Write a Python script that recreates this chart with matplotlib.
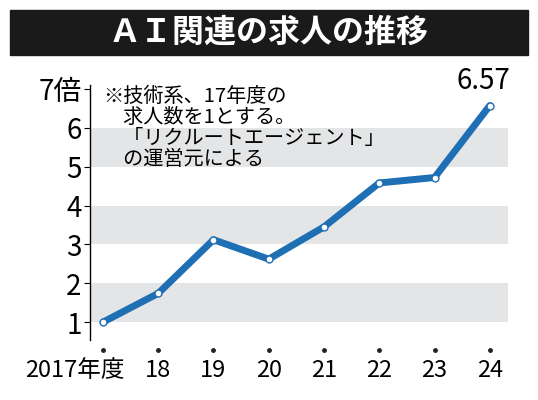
import matplotlib.pyplot as plt
import matplotlib.transforms as mtransforms
from matplotlib.patches import Rectangle

plt.rcParams['font.family'] = ['Noto Sans CJK JP', 'DejaVu Sans']

years = ['2017年度', '18', '19', '20', '21', '22', '23', '24']
values = [1.0, 1.74, 3.12, 2.62, 3.45, 4.58, 4.72, 6.57]
yticks = [1, 2, 3, 4, 5, 6, 7]
ylabels = ['1', '2', '3', '4', '5', '6', '7倍']

fig = plt.figure(figsize=(5.38, 4.0), dpi=100)
fig.patches.append(Rectangle((10 / 538, 1 - 55 / 400), 518 / 538, 45 / 400,
                             transform=fig.transFigure, color='#1a1a1a'))
fig.text(0.5, 1 - 33 / 400, 'ＡＩ関連の求人の推移', color='white', fontsize=23,
         ha='center', va='center', fontweight='bold')

ax = fig.add_axes([90 / 538, 60 / 400, 418 / 538, 255 / 400])
x = list(range(len(years)))
ax.set_xlim(-0.235, 7.33)
ax.set_ylim(0.54, 7.1)
for lo in [1, 3, 5]:
    ax.axhspan(lo, lo + 1, color='#e4e5e6', lw=0, zorder=0)
ax.plot(x, values, color='#1f6fb5', lw=5, solid_capstyle='round', zorder=3)
ax.plot(x, values, 'o', ms=5, mfc='white', mec='#1f6fb5', mew=1, zorder=4)
ax.text(x[-1] - 0.12, values[-1] + 0.25, f'{values[-1]:.2f}', fontsize=20,
        ha='center', va='bottom')
ax.text(0.0, 7.08, '※技術系、17年度の\n　求人数を1とする。\n　「リクルートエージェント」\n　の運営元による',
        fontsize=14.5, va='top', ha='left', linespacing=1.0)

for s in ['top', 'right', 'bottom']:
    ax.spines[s].set_visible(False)
ax.spines['left'].set_linewidth(1)
ax.set_yticks(yticks)
ax.set_yticklabels(ylabels, fontsize=20)
ax.tick_params(axis='y', length=4, pad=2)
ax.set_xticks(x)
ax.set_xticklabels(years, fontsize=17)
ax.tick_params(axis='x', length=0, pad=14)
first = ax.get_xticklabels()[0]
first.set_ha('right')
first.set_transform(first.get_transform() +
                    mtransforms.ScaledTranslation(0.22, 0, fig.dpi_scale_trans))
ax.plot(x, [-0.04] * len(x), 'o', ms=2.5, color='#222', clip_on=False,
        transform=ax.get_xaxis_transform())

fig.savefig('out.png', dpi=100)
